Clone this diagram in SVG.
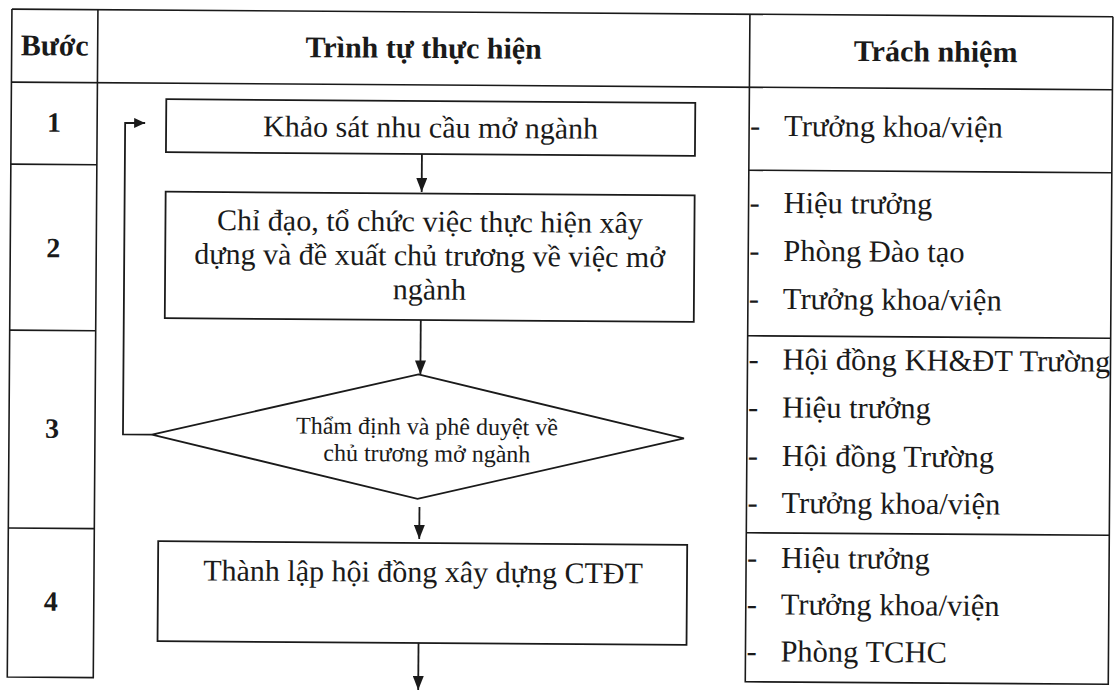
<svg xmlns="http://www.w3.org/2000/svg" width="1116" height="691" viewBox="0 0 1116 691">
<style>
.tbl{stroke:#1a1a1a;stroke-width:1.6;fill:none}
.box{fill:none;stroke:#1a1a1a;stroke-width:1.8}
.conn{stroke:#1a1a1a;stroke-width:1.8;fill:none}
.t{font-family:"Liberation Serif","Times New Roman",serif;fill:#1a1a1a}
.h{font-size:30px;font-weight:bold;text-anchor:middle}
.n{font-size:28px;font-weight:bold;text-anchor:middle}
.b{font-size:30px;text-anchor:middle}
.d{font-size:24px;text-anchor:middle}
.r{font-size:30.5px}
</style>
<defs>
<marker id="ah" markerUnits="userSpaceOnUse" markerWidth="14" markerHeight="11" refX="14" refY="5.5" orient="auto"><path d="M0,0 L14,5.5 L0,11 Z" fill="#1a1a1a"/></marker>
<marker id="ahs" markerUnits="userSpaceOnUse" markerWidth="11" markerHeight="10" refX="11" refY="5" orient="auto"><path d="M0,0 L11,5 L0,10 Z" fill="#1a1a1a"/></marker>
</defs>
<rect width="1116" height="691" fill="#ffffff"/>
<g transform="rotate(0.4)">
<g id="table" class="tbl">
<path d="M12,9 H1113"/>
<path d="M12,82 H1113"/>
<path d="M12,9 V677 H98 V9"/>
<path d="M750,9 V676.5 H1113 V9"/>
<path d="M12,164 H98 M12,330 H98 M12,528 H98"/>
<path d="M750,165 H1113 M750,330.5 H1113 M750,527.5 H1113"/>
</g>
<g id="header" class="t h">
<text x="55" y="55">Bước</text>
<text x="424" y="55">Trình tự thực hiện</text>
<text x="936" y="55">Trách nhiệm</text>
</g>
<g id="steps" class="t n">
<text x="55" y="131.5">1</text>
<text x="55" y="257">2</text>
<text x="55" y="437.5">3</text>
<text x="55" y="610.5">4</text>
</g>
<g id="node-1">
<rect class="box" x="167" y="98" width="529" height="53"/>
<text class="t b" x="431.5" y="134.5">Khảo sát nhu cầu mở ngành</text>
</g>
<g id="node-2">
<rect class="box" x="167" y="190.5" width="529" height="126.5"/>
<text class="t b" x="431.5" y="228.5">Chỉ đạo, tổ chức việc thực hiện xây</text>
<text class="t b" x="431.5" y="262.5">dựng và đề xuất chủ trương về việc mở</text>
<text class="t b" x="431.5" y="296.5">ngành</text>
</g>
<g id="node-3">
<polygon class="box" points="421,371.5 687,433.5 421,496 155,433.5"/>
<text class="t d" x="430" y="431.5">Thẩm định và phê duyệt về</text>
<text class="t d" x="430" y="458.5">chủ trương mở ngành</text>
</g>
<g id="node-4">
<rect class="box" x="162" y="540" width="529" height="100"/>
<text class="t b" x="427" y="579">Thành lập hội đồng xây dựng CTĐT</text>
</g>
<g id="connectors" class="conn">
<path d="M423,151 V189" marker-end="url(#ah)"/>
<path d="M423,317 V371.5" marker-end="url(#ah)"/>
<path d="M423,504 V536" marker-end="url(#ah)"/>
<path d="M423,640 V687" marker-end="url(#ah)"/>
<path d="M155,433.5 H126 V122 H146" marker-end="url(#ahs)"/>
</g>
<g id="responsibilities" class="t r">
<text y="130.6"><tspan x="751">-</tspan><tspan x="785">Trưởng khoa/viện</tspan></text>
<text y="207.5"><tspan x="751">-</tspan><tspan x="785">Hiệu trưởng</tspan></text>
<text y="255.5"><tspan x="751">-</tspan><tspan x="785">Phòng Đào tạo</tspan></text>
<text y="303.5"><tspan x="751">-</tspan><tspan x="785">Trưởng khoa/viện</tspan></text>
<text y="364"><tspan x="751">-</tspan><tspan x="785">Hội đồng KH&amp;ĐT Trường</tspan></text>
<text y="412"><tspan x="751">-</tspan><tspan x="785">Hiệu trưởng</tspan></text>
<text y="460.5"><tspan x="751">-</tspan><tspan x="785">Hội đồng Trường</tspan></text>
<text y="507.5"><tspan x="751">-</tspan><tspan x="785">Trưởng khoa/viện</tspan></text>
<text y="562.5"><tspan x="751">-</tspan><tspan x="785">Hiệu trưởng</tspan></text>
<text y="609"><tspan x="751">-</tspan><tspan x="785">Trưởng khoa/viện</tspan></text>
<text y="656"><tspan x="751">-</tspan><tspan x="785">Phòng TCHC</tspan></text>
</g>
</g>
</svg>
